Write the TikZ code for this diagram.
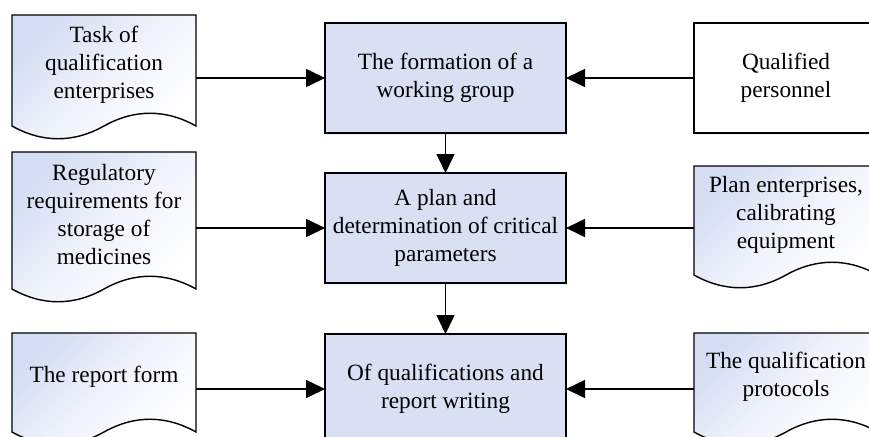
\documentclass[tikz,border=0pt]{standalone}
\usepackage{fontspec}
\setmainfont{Liberation Serif}
\usetikzlibrary{arrows.meta,calc,backgrounds,shadows}
\definecolor{boxblue}{RGB}{218,224,243}
\definecolor{docblue}{RGB}{212,221,243}
\tikzset{
  txt/.style={font=\fontsize{23.3}{28}\selectfont, align=center},
  procbox/.style={txt, draw, line width=1.4pt, fill=boxblue, minimum width=241pt, minimum height=110pt, inner sep=0pt, outer sep=0pt,
     drop shadow={shadow xshift=1pt, shadow yshift=-2pt, opacity=0.12}},
  plainbox/.style={txt, draw, line width=1.4pt, fill=white, minimum width=184pt, minimum height=110pt, inner sep=0pt, outer sep=0pt,
     drop shadow={shadow xshift=1pt, shadow yshift=-2pt, opacity=0.12}},
  docnode/.style={txt, minimum width=184pt, inner sep=0pt, outer sep=0pt},
  docline/.style={draw, line width=1.4pt, top color=docblue, bottom color=white, middle color=docblue!35!white, shading angle=45},
  conn/.style={line width=1.6pt, -{Triangle[length=19pt,width=18pt]}},
}
\newcommand\docoutline[1]{%
  \coordinate (#1-r) at ($(#1.south east)+(0,12)$);
  \coordinate (#1-l) at ($(#1.south west)+(0,12)$);
  \coordinate (#1-m) at ($(#1-l)!0.5!(#1-r)$);
  \path[docline] (#1.north west) -- (#1.north east) -- (#1-r)
    .. controls ($(#1-r)!0.33!(#1-m)+(0,-17)$) and ($(#1-r)!0.67!(#1-m)+(0,-17)$) .. (#1-m)
    .. controls ($(#1-m)!0.33!(#1-l)+(0,17)$) and ($(#1-m)!0.67!(#1-l)+(0,17)$) .. (#1-l) -- cycle;}
\begin{document}
\begin{tikzpicture}[x=1pt,y=-1pt]
\useasboundingbox (0,0) rectangle (869,436);
% centre process boxes
\node[procbox] (B1) at (445.5,78) {The formation of a\\working group};
\node[procbox] (B2) at (445.5,228) {A plan and\\determination of critical\\parameters};
\node[procbox] (B3) at (445.5,389) {Of qualifications and\\report writing};
% left documents
\node[docnode, minimum height=99pt] (L1) at (104,64.5) {Task of\\qualification\\enterprises};
\node[docnode, minimum height=125pt] (L2) at (104,214.5) {Regulatory\\requirements for\\storage of\\medicines};
\node[docnode, minimum height=87pt] (L3) at (104,376.5) {The report form};
% right inputs
\node[plainbox] (R1) at (786,78) {Qualified\\personnel};
\node[docnode, minimum height=97pt] (R2) at (786,214.5) {Plan enterprises,\\calibrating\\equipment};
\node[docnode, minimum height=87pt] (R3) at (786,376.5) {The qualification\\protocols};
\begin{pgfonlayer}{background}
  \docoutline{L1}
  \docoutline{L2}
  \docoutline{L3}
  \docoutline{R2}
  \docoutline{R3}
\end{pgfonlayer}
% connectors
\draw[conn] (B1.west -| L1.east) -- (B1.west);
\draw[conn] (B2.west -| L2.east) -- (B2.west);
\draw[conn] (B3.west -| L3.east) -- (B3.west);
\draw[conn] (R1.west) -- (B1.east);
\draw[conn] (B2.east -| R2.west) -- (B2.east);
\draw[conn] (B3.east -| R3.west) -- (B3.east);
\draw[conn] (B1.south) -- (B2.north);
\draw[conn] (B2.south) -- (B3.north);
\end{tikzpicture}
\end{document}
